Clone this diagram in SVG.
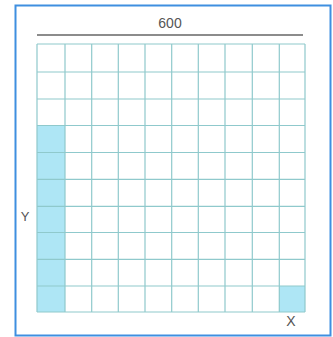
<svg xmlns="http://www.w3.org/2000/svg" width="333" height="337" viewBox="0 0 333 337">
<style>
.g{stroke:#8fc9cc;stroke-width:1.2;fill:none}
.s{fill:#aee6f5}
.t{font-family:"Liberation Sans",Arial,sans-serif;fill:#555}
</style>
<rect x="0" y="0" width="333" height="337" fill="#fff"/>
<rect x="15.5" y="5.5" width="315" height="330" fill="none" stroke="#3f8fe0" stroke-width="2"/>
<g id="label600">
<text class="t" x="170" y="28" font-size="14" text-anchor="middle">600</text>
<line x1="37" y1="35" x2="303" y2="35" stroke="#666" stroke-width="1.5"/>
</g>
<g id="shading">
<rect class="s" x="37" y="125" width="28" height="187"/>
<rect class="s" x="279" y="286" width="26" height="26"/>
</g>
<g id="grid" class="g">
<path d="M37 44V312M65 44V312M91.7 44V312M118.3 44V312M145 44V312M171.7 44V312M198.3 44V312M225 44V312M252.3 44V312M279.3 44V312M305 44V312"/>
<path d="M37 44H305M37 72H305M37 99H305M37 125.5H305M37 152.5H305M37 179.3H305M37 206.3H305M37 232.5H305M37 259.3H305M37 286H305M37 312H305"/>
</g>
<g id="labels">
<text class="t" x="25" y="221" font-size="13" text-anchor="middle">Y</text>
<text class="t" x="291" y="326" font-size="14" text-anchor="middle">X</text>
</g>
</svg>
